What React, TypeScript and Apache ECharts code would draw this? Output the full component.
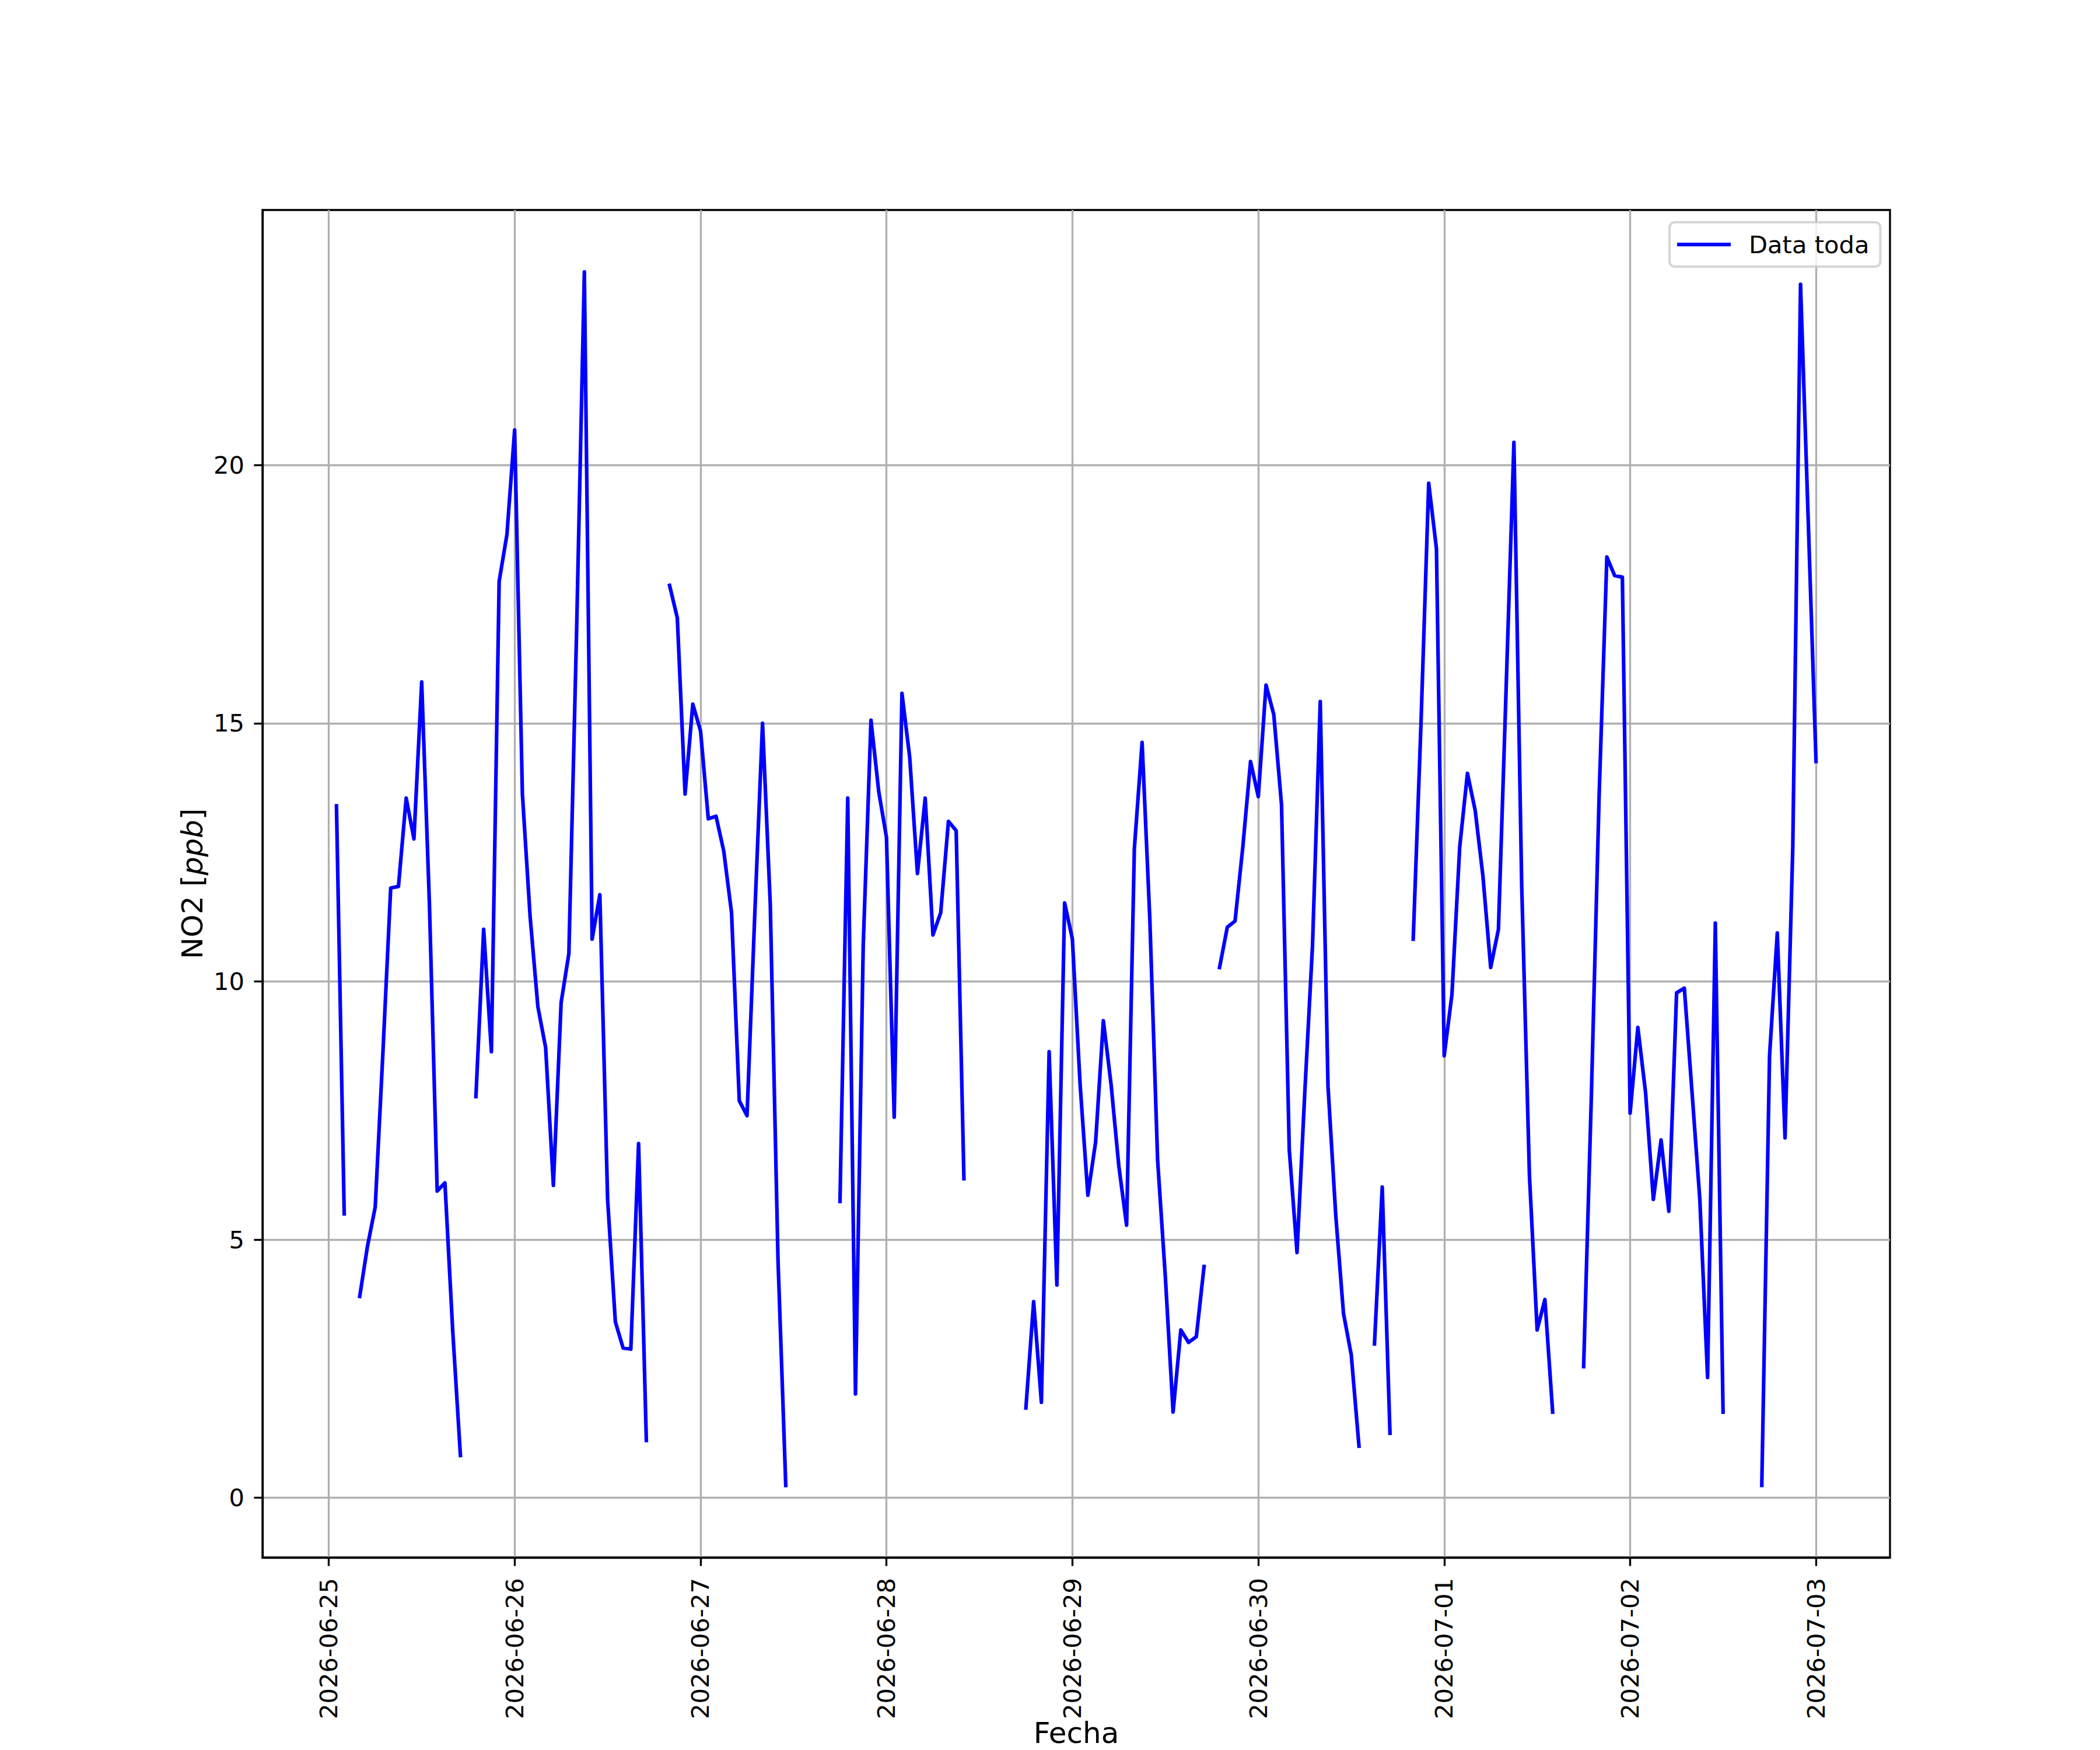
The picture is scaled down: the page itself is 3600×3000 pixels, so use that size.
import React, { useEffect, useRef } from 'react';
import * as echarts from 'echarts';

const dayLabels = [
  '2026-06-25', '2026-06-26', '2026-06-27', '2026-06-28', '2026-06-29',
  '2026-06-30', '2026-07-01', '2026-07-02', '2026-07-03',
];

// Hourly NO2 values (ppb), one array per day, null = missing
const day0 = [null, 13.4, 5.5, null, 3.9, 4.87, 5.63, 8.64, 11.81, 11.84, 13.55, 12.76, 15.8, 11.49, 5.94, 6.1, 3.25, 0.82, null, 7.77, 11.01, 8.64, 17.75, 18.65];
const day1 = [20.68, 13.63, 11.25, 9.51, 8.72, 6.05, 9.59, 10.54, 16.8, 23.74, 10.82, 11.68, 5.78, 3.41, 2.9, 2.88, 6.86, 1.11, null, null, 17.67, 17.04, 13.63, 15.37];
const day2 = [14.85, 13.15, 13.2, 12.52, 11.33, 7.69, 7.4, 11.3, 15.0, 11.49, 4.6, 0.24, null, null, null, null, null, null, 5.74, 13.55, 2.01, 10.7, 15.06, 13.68];
const day3 = [12.79, 7.37, 15.58, 14.34, 12.09, 13.55, 10.9, 11.33, 13.1, 12.92, 6.18, null, null, null, null, null, null, null, 1.74, 3.8, 1.85, 8.64, 4.12, 11.52];
const day4 = [10.82, 8.0, 5.86, 6.89, 9.24, 8.0, 6.42, 5.28, 12.57, 14.63, 11.2, 6.55, 4.28, 1.66, 3.25, 3.01, 3.12, 4.48, null, 10.27, 11.05, 11.17, 12.6, 14.26];
const day5 = [13.58, 15.74, 15.17, 13.42, 6.74, 4.75, 7.84, 10.7, 15.42, 7.97, 5.47, 3.57, 2.77, 1.0, null, 2.98, 6.02, 1.25, null, null, 10.82, 14.98, 19.65, 18.38];
const day6 = [8.56, 9.75, 12.6, 14.03, 13.31, 12.04, 10.27, 11.01, 15.7, 20.44, 11.89, 6.26, 3.25, 3.84, 1.66, null, null, null, 2.54, 7.8, 13.6, 18.22, 17.86, 17.83];
const day7 = [7.45, 9.11, 7.84, 5.78, 6.93, 5.55, 9.78, 9.87, 7.84, 5.78, 2.33, 11.13, 1.66, null, null, null, null, 0.24, 8.56, 10.94, 6.97, 12.6, 23.5, 18.9];
const day8 = [14.26];

const yTicks = [0, 5, 10, 15, 20];
const seriesName = 'Data toda';

const FONT = 'DejaVu Sans';
const PX = 300 / 72; // px per pt at 300 dpi

export default function App() {
  const ref = useRef<HTMLDivElement>(null);

  useEffect(() => {
    document.body.style.margin = '0';
    const chart = echarts.init(ref.current as HTMLDivElement, null, { renderer: 'svg' });
    const hourly = [...day0, ...day1, ...day2, ...day3, ...day4, ...day5, ...day6, ...day7, ...day8];
    const data = hourly.map((v, i) => [i, v === null ? '-' : v]);
    const xTicks = dayLabels.map((_, i) => i * 24);

    chart.setOption({
      animation: false,
      backgroundColor: '#ffffff',
      grid: {
        left: 450,
        right: 360,
        top: 360,
        bottom: 330,
        show: true,
        borderColor: '#000000',
        borderWidth: 0.8 * PX,
        backgroundColor: 'transparent',
        containLabel: false,
        outerBoundsMode: 'none',
      },
      legend: {
        show: true,
        data: [{ name: seriesName, icon: 'rect' }],
        left: 2862,
        top: 381,
        orient: 'vertical',
        itemWidth: 92,
        itemHeight: 1.5 * PX,
        padding: [17, 19, 17, 13],
        backgroundColor: 'rgba(255,255,255,0.8)',
        borderColor: 'rgba(204,204,204,0.8)',
        borderWidth: 1.0 * PX,
        borderRadius: 9,
        selectedMode: false,
        textStyle: {
          fontFamily: FONT,
          fontSize: 10 * PX,
          color: '#000000',
          lineHeight: 42,
          padding: [0, 0, 0, 26],
        },
      },
      xAxis: {
        type: 'value',
        min: -8.55,
        max: 201.55,
        name: 'Fecha',
        nameLocation: 'middle',
        nameGap: 281,
        nameMoveOverlap: false,
        nameTextStyle: { fontFamily: FONT, fontSize: 12 * PX, color: '#000000', verticalAlign: 'top', lineHeight: 40 },
        axisLine: { show: true, onZero: false, lineStyle: { color: '#000000', width: 0.8 * PX } },
        axisTick: {
          show: true,
          inside: false,
          length: 3.5 * PX,
          lineStyle: { color: '#000000', width: 0.8 * PX },
          customValues: xTicks,
        },
        axisLabel: {
          show: true,
          rotate: 90,
          margin: 35,
          fontFamily: FONT,
          fontSize: 10 * PX,
          color: '#000000',
          customValues: xTicks,
          formatter: (v: number) => dayLabels[Math.round(v / 24)] ?? '',
        },
        splitLine: { show: true, lineStyle: { color: '#b0b0b0', width: 0.8 * PX } },
      },
      yAxis: {
        type: 'value',
        min: -1.156,
        max: 24.94,
        name: 'NO2 [{i|ppb}]',
        nameLocation: 'middle',
        nameRotate: 90,
        nameGap: 95,
        nameMoveOverlap: false,
        nameTextStyle: {
          fontFamily: FONT,
          fontSize: 12 * PX,
          color: '#000000',
          rich: { i: { fontFamily: FONT, fontSize: 12 * PX, fontStyle: 'italic', color: '#000000' } },
        },
        axisLine: { show: true, onZero: false, lineStyle: { color: '#000000', width: 0.8 * PX } },
        axisTick: {
          show: true,
          inside: false,
          length: 3.5 * PX,
          lineStyle: { color: '#000000', width: 0.8 * PX },
          customValues: yTicks,
        },
        axisLabel: {
          show: true,
          margin: 31,
          fontFamily: FONT,
          fontSize: 10 * PX,
          color: '#000000',
          customValues: yTicks,
        },
        splitLine: { show: true, lineStyle: { color: '#b0b0b0', width: 0.8 * PX } },
      },
      series: [
        {
          name: seriesName,
          type: 'line',
          data,
          showSymbol: false,
          symbol: 'none',
          connectNulls: false,
          itemStyle: { color: '#0000ff' },
          lineStyle: { color: '#0000ff', width: 1.5 * PX, cap: 'square', join: 'round' },
          emphasis: { disabled: true },
        },
      ],
    });

    return () => chart.dispose();
  }, []);

  return <div ref={ref} style={{ width: 3600, height: 3000 }} />;
}
